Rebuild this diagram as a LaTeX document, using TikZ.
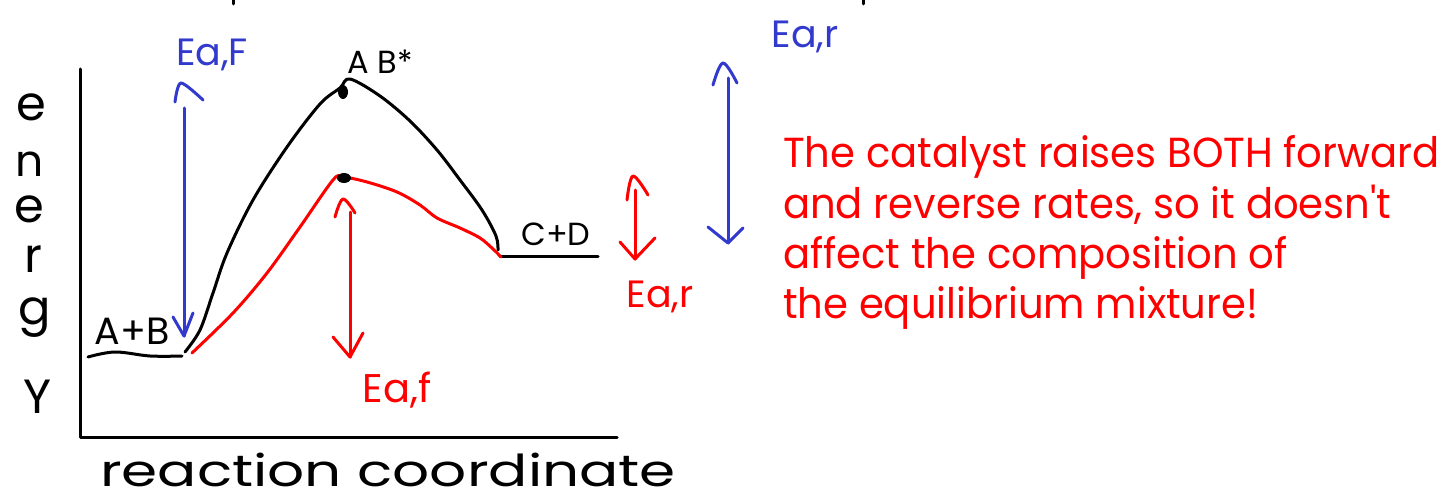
\documentclass[tikz,border=0pt]{standalone}
\usepackage{fontspec}
\setmainfont{Poppins}
\newfontfamily\notefont{Poppins}
\definecolor{penblue}{RGB}{50,58,205}
\definecolor{penred}{RGB}{255,0,0}
\begin{document}
\begin{tikzpicture}[x=1pt,y=-1pt,
  pen/.style={line width=3pt,line cap=round,line join=round},
  ink/.style={pen,black},
  blueink/.style={pen,penblue},
  redink/.style={pen,penred},
  hand/.style={inner sep=0pt,font=\fontsize{#1}{#1}\selectfont},
  hand/.default=40,
  note/.style={inner sep=0pt,anchor=base west,xscale=0.955,text=penred,font=\notefont\fontsize{42}{50}\selectfont}
]
\useasboundingbox (0,0) rectangle (1447,500);

% cut-off marks at the top edge
\draw[ink] (233,0) -- (233,4);
\draw[ink] (863,0) -- (863,4);

% axes
\coordinate (ytop) at (80,69);
\coordinate (origin) at (80,437);
\coordinate (xend) at (617,437);
\draw[ink] (ytop) -- (origin) -- (xend);

% axis labels
\node[hand=48] (l1) at (31,107) {e};
\node[hand=44] (l2) at (30,164) {n};
\node[hand=48] (l3) at (29,209) {e};
\node[hand=48] (l4) at (33,259) {r};
\node[hand=48] (l5) at (35,318) {g};
\node[hand=48] (l6) at (38,397) {Y};
\node[hand=44,xscale=1.32] (xlab) at (388,470) {reaction coordinate};

% reactant / product levels
\draw[ink] plot[smooth,tension=0.6] coordinates {(88,357) (115,352) (150,356) (182,356)};
\node[hand=38] (ab) at (132,331) {A+B};
\draw[ink] (500,256) -- (598,256);
\node[hand=32] (cd) at (556,234) {C+D};

% uncatalysed curve
\draw[ink] plot[smooth,tension=0.55] coordinates {(185,352) (200,330) (213,293) (227,253) (253,200) (287,147) (320,104) (340,88) (350,79) (380,96) (410,121) (437,150) (460,180) (482,210) (496,236) (498,250)};
% catalysed curve
\draw[redink] plot[smooth,tension=0.55] coordinates {(192,353) (233,313) (267,273) (300,227) (333,180) (343,177) (367,182) (397,192) (420,205) (437,218) (460,228) (480,238) (493,249) (501,257)};

% transition states
\fill (343,92) ellipse (5 and 7);
\fill (344,178) ellipse (7 and 5);
\node[hand=32] (ts) at (380,62) {A B*};

% blue Ea,f
\coordinate (bfTop) at (184,108);
\coordinate (bfBot) at (184,336);
\draw[blueink] (bfTop) -- (bfBot);
\draw[blueink] plot[smooth,tension=0.5] coordinates {(175,102) (181,83) (203,100)};
\draw[blueink] (173,317) -- (bfBot) -- (193,313);
\node[hand=38,text=penblue] (eafb) at (212,55) {Ea,F};

% red Ea,f
\coordinate (rfTop) at (350,212);
\coordinate (rfBot) at (350,357);
\draw[redink] (rfTop) -- (rfBot);
\draw[redink] plot[smooth,tension=0.6] coordinates {(335,217) (343,199) (355,213)};
\draw[redink] (333,337) -- (rfBot) -- (363,333);
\node[hand=40,text=penred] (eafr) at (397,390) {Ea,f};

% red Ea,r
\coordinate (rrTop) at (635,190);
\coordinate (rrBot) at (635,259);
\draw[redink] (rrTop) -- (rrBot);
\draw[redink] plot[smooth,tension=0.6] coordinates {(627,200) (633,176) (648,195)};
\draw[redink] (620,242) -- (rrBot) -- (655,238);
\node[hand=38,text=penred] (earr) at (660,297) {Ea,r};

% blue Ea,r
\coordinate (brTop) at (728,78);
\coordinate (brBot) at (728,243);
\draw[blueink] (brTop) -- (brBot);
\draw[blueink] plot[smooth,tension=0.6] coordinates {(713,85) (723,63) (737,83)};
\draw[blueink] (708,227) -- (brBot) -- (743,228);
\node[hand=38,text=penblue] (earb) at (805,37) {Ea,r};

% note
\node[note] (n1) at (783,167) {The catalyst raises BOTH forward};
\node[note] (n2) at (783,218) {and reverse rates, so it doesn't};
\node[note] (n3) at (783,268) {affect the composition of};
\node[note] (n4) at (783,318) {the equilibrium mixture!};
\end{tikzpicture}
\end{document}
